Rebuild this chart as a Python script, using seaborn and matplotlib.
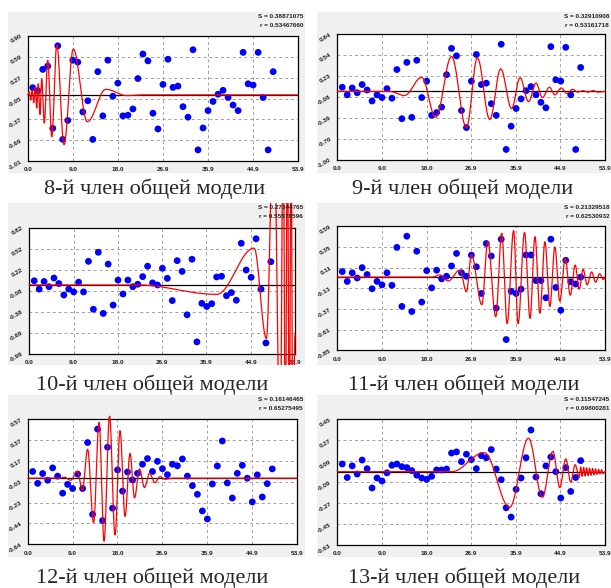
import numpy as np
import matplotlib
matplotlib.use("Agg")
import matplotlib.pyplot as plt
import seaborn as sns
from matplotlib.patches import Rectangle
from matplotlib.ticker import AutoMinorLocator

sns.set_style("white")
plt.rcParams["font.family"] = ["Liberation Sans", "DejaVu Sans"]

# observation index (same for all panels)
days = list(range(1, 50))
x_tick_labels = ["0.0", "9.0", "18.0", "26.9", "35.9", "44.9", "53.9"]
x_max = 53.9

titles = ["8-й член общей модели", "9-й член общей модели", "10-й член общей модели",
          "11-й член общей модели", "12-й член общей модели", "13-й член общей модели"]
s_values = ["0.38871075", "0.32910908", "0.27344765", "0.21329518", "0.16146465", "0.11547245"]
r_values = ["0.53467660", "0.53161718", "0.55578596", "0.62530932", "0.65275495", "0.69800281"]

y_ranges = [(-1.01, 0.90), (-1.00, 0.84), (-0.99, 0.82), (-0.85, 0.59), (-0.64, 0.57), (-0.63, 0.45)]
y_tick_labels = [
    ["-1.01", "-0.69", "-0.37", "-0.05", "0.27", "0.59", "0.90"],
    ["-1.00", "-0.70", "-0.39", "-0.08", "0.23", "0.54", "0.84"],
    ["-0.99", "-0.69", "-0.38", "-0.08", "0.22", "0.52", "0.82"],
    ["-0.85", "-0.61", "-0.37", "-0.13", "0.11", "0.35", "0.59"],
    ["-0.64", "-0.44", "-0.23", "-0.03", "0.17", "0.37", "0.57"],
    ["-0.63", "-0.45", "-0.27", "-0.09", "0.09", "0.27", "0.45"],
]

# residuals (blue points)
pts_8 = [0.11, 0.065, 0.39, 0.44, -0.51, 0.75, -0.68, -0.39, 0.53, 0.50, -0.26, -0.09, -0.68, 0.355,
         -0.32, 0.53, -0.02, 0.18, -0.32, -0.31, -0.215, 0.25, 0.625, 0.52, -0.28, -0.52, 0.16, 0.545,
         0.115, 0.135, -0.18, -0.34, 0.69, -0.84, -0.505, -0.24, -0.10, 0.01, 0.07, -0.04, -0.155,
         -0.24, 0.65, 0.17, 0.15, 0.65, -0.04, -0.84, 0.355]
pts_9 = [0.06, -0.05, 0.05, -0.02, 0.10, 0.02, -0.14, -0.05, -0.09, 0.04, -0.10, 0.32, -0.40, 0.425,
         -0.38, 0.455, -0.09, 0.15, -0.35, -0.31, -0.23, 0.245, 0.63, 0.52, -0.28, -0.53, 0.15, 0.54,
         0.10, 0.12, -0.18, -0.35, 0.69, -0.85, -0.51, -0.25, -0.11, 0.01, 0.07, -0.05, -0.16, -0.24,
         0.655, 0.17, 0.15, 0.645, -0.05, -0.85, 0.35]
pts_10 = [0.06, -0.06, 0.05, -0.025, 0.10, 0.02, -0.145, -0.06, -0.10, 0.04, -0.10, 0.34, -0.35, 0.47,
          -0.41, 0.30, -0.29, 0.07, -0.13, 0.07, -0.025, 0.01, 0.12, 0.27, 0.03, 0.0, 0.24, 0.095,
          -0.225, 0.35, 0.195, -0.43, 0.37, -0.82, -0.265, -0.31, -0.27, 0.115, 0.125, -0.155, -0.11,
          -0.22, 0.60, 0.215, 0.11, 0.665, -0.06, -0.835, 0.335]
pts_11 = [0.064, -0.05, 0.05, -0.01, 0.11, 0.03, -0.135, -0.05, -0.09, 0.05, -0.095, 0.345, -0.34,
          0.475, -0.40, 0.30, -0.29, 0.075, -0.125, 0.08, -0.02, 0.01, 0.13, 0.275, 0.05, 0.01, 0.255,
          0.12, -0.19, 0.39, 0.245, -0.36, 0.44, -0.725, -0.165, -0.19, -0.14, 0.257, 0.257, -0.04,
          -0.04, -0.24, 0.44, -0.12, -0.385, 0.195, -0.055, -0.08, 0.0]
pts_12 = [0.065, -0.05, 0.045, -0.02, 0.10, 0.02, -0.145, -0.06, -0.10, 0.04, -0.10, 0.345, -0.35,
          0.475, -0.41, 0.30, -0.29, 0.08, -0.125, 0.06, -0.017, 0.047, 0.135, 0.19, 0.065, 0.163,
          0.092, 0.034, 0.135, 0.12, 0.186, 0.02, -0.072, -0.156, -0.317, -0.395, -0.056, 0.118, 0.36,
          -0.046, -0.192, 0.047, 0.125, 0.0, -0.23, 0.032, -0.182, -0.053, 0.09]
pts_13 = [0.066, -0.05, 0.05, -0.02, 0.10, 0.026, -0.14, -0.054, -0.08, -0.01, 0.055, 0.066, 0.043,
          0.035, 0.009, -0.03, -0.054, -0.066, -0.04, 0.015, 0.015, 0.023, 0.16, 0.17, 0.086, 0.15,
          0.103, 0.026, 0.138, 0.12, 0.19, 0.023, -0.069, -0.31, -0.39, -0.152, -0.054, 0.12, 0.358,
          -0.046, -0.19, 0.05, 0.126, 0.0, -0.226, 0.035, -0.17, -0.05, 0.095]

# model member curves: successive extrema (x, value)
wave_x_8 = [0.0, 0.3, 0.6, 0.9, 1.2, 1.5, 1.8, 2.1, 2.45, 2.8, 3.3, 4.0, 4.8, 5.8, 7.25, 9.1, 11.9,
            15.6, 19.8, 23.0, 53.9]
wave_y_8 = [0.0, 0.05, -0.08, 0.08, -0.12, 0.12, -0.2, 0.17, -0.3, 0.24, -0.43, 0.53, -0.64, 0.76,
            -0.76, 0.70, -0.41, 0.085, -0.01, 0.0, 0.0]
wave_x_9 = [0.0, 10.5, 13.5, 17.0, 19.8, 23.0, 26.0, 28.2, 30.7, 32.9, 35.1, 36.8, 38.5, 40.0, 41.3,
            42.7, 43.8, 45.1, 46.2, 47.4, 48.4, 49.5, 50.5, 51.5, 52.5, 53.9]
wave_y_9 = [0.0, 0.0, -0.06, 0.205, -0.38, 0.51, -0.53, 0.49, -0.41, 0.33, -0.25, 0.20, -0.15, 0.12,
            -0.09, 0.06, -0.05, 0.05, -0.03, 0.03, -0.01, 0.01, -0.01, 0.01, -0.01, 0.0]
wave_x_10 = [0.0, 22.0, 38.0, 45.6, 48.1, 49.6, 50.9, 51.5, 51.95, 52.35, 52.75, 53.1, 53.45, 53.9]
wave_y_10 = [0.0, 0.0, -0.135, 0.53, -0.77, 2.5, -2.5, 2.5, -2.5, 2.5, -2.5, 2.5, -2.5, -0.72]
wave_x_11 = [0.0, 19.0, 20.7, 22.3, 24.7, 26.0, 27.0, 29.1, 30.3, 31.9, 33.1, 34.2, 35.5, 36.4, 37.7,
             38.8, 39.8, 40.8, 41.8, 42.8, 43.8, 44.8, 45.9, 46.9, 47.9, 48.7, 49.5, 50.3, 51.2, 52.0,
             52.8, 53.6, 53.9]
wave_y_11 = [0.0, 0.0, 0.025, -0.045, 0.083, -0.17, 0.26, -0.32, 0.41, -0.46, 0.51, -0.54, 0.54,
             -0.54, 0.52, -0.48, 0.47, -0.42, 0.41, -0.34, 0.35, -0.28, 0.22, -0.21, 0.14, -0.14, 0.09,
             -0.09, 0.06, -0.06, 0.04, -0.03, 0.0]
wave_x_12 = [0.0, 6.5, 7.35, 8.6, 9.95, 10.95, 12.0, 13.2, 14.3, 15.3, 16.4, 17.5, 18.5, 19.5, 20.5,
             21.4, 22.4, 23.4, 24.4, 25.5, 26.5, 27.5, 29.0, 53.9]
wave_y_12 = [0.0, 0.0, 0.01, -0.02, 0.067, -0.114, 0.28, -0.43, 0.54, -0.61, 0.60, -0.55, 0.46, -0.37,
             0.24, -0.19, 0.09, -0.09, 0.047, -0.043, 0.016, -0.01, 0.0, 0.0]
wave_x_13 = [0.0, 23.0, 29.6, 34.7, 38.5, 41.3, 43.4, 44.8, 46.0, 47.0, 47.9, 48.7, 49.0, 49.3, 49.6,
             49.9, 50.2, 50.5, 50.8, 51.1, 51.4, 51.7, 52.0, 52.3, 52.6, 52.9, 53.2, 53.5, 53.9]
wave_y_13 = [0.0, 0.0, 0.163, -0.306, 0.287, -0.22, 0.175, -0.137, 0.11, -0.09, 0.06, -0.05, 0.04,
             -0.04, 0.037, -0.037, 0.034, -0.034, 0.03, -0.03, 0.027, -0.027, 0.024, -0.024, 0.02,
             -0.02, 0.017, -0.017, 0.0]

points = [pts_8, pts_9, pts_10, pts_11, pts_12, pts_13]
waves = [(wave_x_8, wave_y_8), (wave_x_9, wave_y_9), (wave_x_10, wave_y_10),
         (wave_x_11, wave_y_11), (wave_x_12, wave_y_12), (wave_x_13, wave_y_13)]

# layout in pixels: gray box, plot area, title centre
W, H = 611, 588
gray_boxes = [(8, 12, 305, 173), (317, 12, 611, 173),
              (8, 203, 305, 365), (317, 203, 611, 365),
              (8, 395, 305, 557), (317, 395, 611, 557)]
plot_boxes = [(27.7, 36, 297.7, 161), (337.3, 34, 605, 159.7),
              (29.3, 228, 295, 353.7), (337.3, 226.3, 605, 350.3),
              (27.7, 419.3, 296.7, 544.3), (337.3, 419.3, 605, 545)]
title_pos = [(155, 189), (463, 189), (152, 385), (464, 385), (152, 578), (464, 578)]


def smooth_wave(ex, ey, n=40):
    """join successive extrema with half-cosine arcs"""
    xs, ys = [], []
    for i in range(len(ex) - 1):
        t = np.linspace(0, 1, n, endpoint=False)
        xs.append(ex[i] + (ex[i + 1] - ex[i]) * t)
        ys.append(ey[i] + (ey[i + 1] - ey[i]) * (1 - np.cos(np.pi * t)) / 2)
    xs.append([ex[-1]])
    ys.append([ey[-1]])
    return np.concatenate(xs), np.concatenate(ys)


fig = plt.figure(figsize=(W / 100, H / 100), dpi=100)

for i in range(6):
    gx0, gy0, gx1, gy1 = gray_boxes[i]
    bg = Rectangle((gx0 / W, 1 - gy1 / H), (gx1 - gx0) / W, (gy1 - gy0) / H,
                   transform=fig.transFigure, facecolor="#f0f0f0", edgecolor="none", zorder=-5)
    fig.patches.append(bg)

    px0, py0, px1, py1 = plot_boxes[i]
    ax = fig.add_axes([px0 / W, 1 - py1 / H, (px1 - px0) / W, (py1 - py0) / H], zorder=1)
    ax.set_facecolor("white")
    ymin, ymax = y_ranges[i]

    ax.axhline(0, color="black", lw=0.9, zorder=2)
    sns.scatterplot(x=days, y=points[i], ax=ax, color="#0000ff", s=24,
                    edgecolor="none", linewidth=0, zorder=3)

    cx, cy = smooth_wave(*waves[i])
    sns.lineplot(x=cx, y=cy, ax=ax, color="red", lw=0.9, estimator=None, sort=False, zorder=4)
    curve = ax.lines[-1]
    curve.set_clip_path(bg)

    ax.set_xlim(0, x_max)
    ax.set_ylim(ymin, ymax)
    ax.set_xticks(np.linspace(0, x_max, 7))
    ax.set_xticklabels(x_tick_labels)
    ax.set_yticks(np.linspace(ymin, ymax, 7))
    ax.set_yticklabels(y_tick_labels[i], rotation=30, ha="right", va="center",
                       rotation_mode="anchor")
    ax.xaxis.set_minor_locator(AutoMinorLocator(4))
    ax.yaxis.set_minor_locator(AutoMinorLocator(5))
    ax.tick_params(axis="both", which="major", direction="out", length=3, width=0.7,
                   labelsize=4.6, pad=1.5, colors="#222222")
    ax.tick_params(axis="both", which="minor", direction="out", length=1.6, width=0.6,
                   colors="#222222")
    for lab in ax.get_xticklabels() + ax.get_yticklabels():
        lab.set_fontweight("bold")
    ax.grid(True, which="major", ls=(0, (3, 3)), color="#a0a0a0", lw=0.7)
    for sp in ax.spines.values():
        sp.set_visible(True)
        sp.set_color("black")
        sp.set_linewidth(0.9)
    ax.set_xlabel("")
    ax.set_ylabel("")

    fig.text((gx1 - 2) / W, 1 - (gy0 + 4.5) / H, "S = " + s_values[i], ha="right", va="center",
             fontsize=4.6, fontweight="bold", color="#222222", zorder=6)
    fig.text((gx1 - 2) / W, 1 - (gy0 + 13.5) / H, "r = " + r_values[i], ha="right", va="center",
             fontsize=4.6, fontweight="bold", color="#222222", zorder=6)

    tx, ty = title_pos[i]
    fig.text(tx / W, 1 - ty / H, titles[i], ha="center", va="center",
             family="Liberation Serif", fontsize=16, zorder=6)

fig.savefig("out.png", dpi=100)
